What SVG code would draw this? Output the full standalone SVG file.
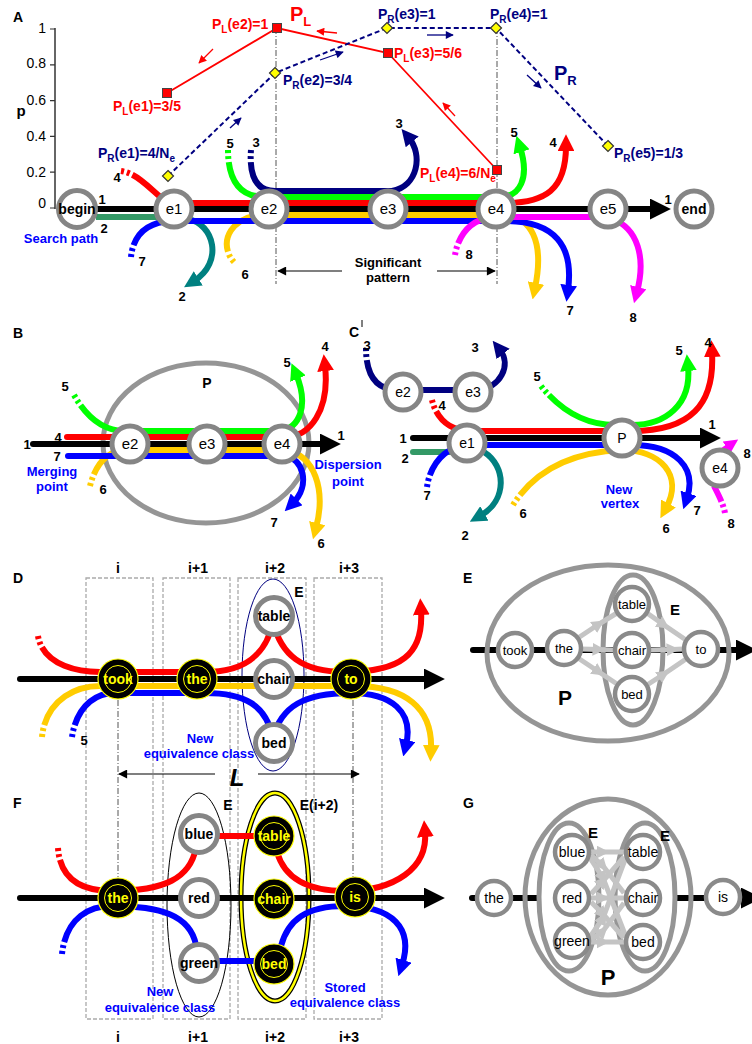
<svg xmlns="http://www.w3.org/2000/svg" width="752" height="1044" viewBox="0 0 752 1044">
<style>
text{font-family:"Liberation Sans",Arial,Helvetica,sans-serif;font-size:13px;font-weight:bold;fill:#000}
.n{font-weight:normal}
.m{text-anchor:middle}
.e{text-anchor:end}
.f14{font-size:14px}
.f15{font-size:15px}
.f20{font-size:20px}
.f22{font-size:22px}
.sub{font-size:10px}
.sub2{font-size:13px}
.blu{fill:#0000ff}
.nav{fill:#000080}
.red{fill:#ff0000}
.yel{fill:#ffff00}
.nd{fill:#fff;stroke:#858585;stroke-width:5}
.ndl{fill:#fff;stroke:#8a8a8a;stroke-width:4.5}
.bk{fill:#000;stroke:#ffff00;stroke-width:1.2}
.bki{fill:none;stroke:#ffff00;stroke-width:1}
.c{fill:none;stroke-width:6}
.d{stroke-dasharray:3 3 3 3 3000}
.rc{stroke-linecap:round}
.box{fill:none;stroke:#aaa;stroke-width:1.3;stroke-dasharray:4 2}
.dd{stroke:#555;stroke-width:1;stroke-dasharray:6 2 1 2;fill:none}
.gr{stroke:#c4c4c4;stroke-width:5;fill:none}
.ell{fill:none;stroke:#959595;stroke-width:5}
</style>
<defs>
<marker id="aK" viewBox="0 0 10 10" refX="1" refY="5" markerWidth="3.5" markerHeight="3.5" orient="auto"><path d="M0,0L10,5L0,10z" fill="#000"/></marker>
<marker id="aR" viewBox="0 0 10 10" refX="3" refY="5" markerWidth="2.8" markerHeight="2.8" orient="auto"><path d="M0,0L10,5L0,10z" fill="#ff0000"/></marker>
<marker id="aG" viewBox="0 0 10 10" refX="3" refY="5" markerWidth="2.8" markerHeight="2.8" orient="auto"><path d="M0,0L10,5L0,10z" fill="#00ff00"/></marker>
<marker id="aN" viewBox="0 0 10 10" refX="3" refY="5" markerWidth="2.8" markerHeight="2.8" orient="auto"><path d="M0,0L10,5L0,10z" fill="#000080"/></marker>
<marker id="aY" viewBox="0 0 10 10" refX="3" refY="5" markerWidth="2.8" markerHeight="2.8" orient="auto"><path d="M0,0L10,5L0,10z" fill="#ffcc00"/></marker>
<marker id="aB" viewBox="0 0 10 10" refX="3" refY="5" markerWidth="2.8" markerHeight="2.8" orient="auto"><path d="M0,0L10,5L0,10z" fill="#0000ff"/></marker>
<marker id="aT" viewBox="0 0 10 10" refX="3" refY="5" markerWidth="2.8" markerHeight="2.8" orient="auto"><path d="M0,0L10,5L0,10z" fill="#008080"/></marker>
<marker id="aM" viewBox="0 0 10 10" refX="3" refY="5" markerWidth="2.8" markerHeight="2.8" orient="auto"><path d="M0,0L10,5L0,10z" fill="#ff00ff"/></marker>
<marker id="aL" viewBox="0 0 10 10" refX="5" refY="5" markerWidth="2.6" markerHeight="2.6" orient="auto"><path d="M0,0L10,5L0,10z" fill="#c4c4c4"/></marker>
<marker id="sR" viewBox="0 0 10 10" refX="9" refY="5" markerUnits="userSpaceOnUse" markerWidth="9" markerHeight="8" orient="auto"><path d="M0,0L10,5L0,10z" fill="#ff0000"/></marker>
<marker id="sN" viewBox="0 0 10 10" refX="9" refY="5" markerUnits="userSpaceOnUse" markerWidth="9" markerHeight="8" orient="auto"><path d="M0,0L10,5L0,10z" fill="#000080"/></marker>
<marker id="sK" viewBox="0 0 10 10" refX="9" refY="5" markerUnits="userSpaceOnUse" markerWidth="13" markerHeight="9" orient="auto"><path d="M0,0L10,5L0,10z" fill="#000"/></marker>
</defs>
<rect width="752" height="1044" fill="#fff"/>

<!-- ================= PANEL A ================= -->
<g id="A-axis">
<text class="f14" x="13" y="22">A</text>
<line x1="55" y1="28" x2="55" y2="209" stroke="#333" stroke-width="1.5"/>
<path d="M50 29H55M50 64.8H55M50 100.6H55M50 136.4H55M50 172.2H55M50 208H55" stroke="#333" stroke-width="1.2"/>
<text class="n f14 e" x="46" y="33">1</text>
<text class="n f14 e" x="46" y="68">0.8</text>
<text class="n f14 e" x="46" y="105">0.6</text>
<text class="n f14 e" x="46" y="141">0.4</text>
<text class="n f14 e" x="46" y="177">0.2</text>
<text class="n f14 e" x="46" y="208">0</text>
<text class="f15 m" x="21" y="116">p</text>
<line class="dd" x1="276" y1="28" x2="276" y2="284"/>
<line class="dd" x1="497" y1="28" x2="497" y2="284"/>
</g>

<g id="A-curves">
<polyline points="167,93 277,28 388,53 497,170" fill="none" stroke="#ff0000" stroke-width="1.8"/>
<polyline points="168,176 275,73 387,28 496,28 608,146" fill="none" stroke="#000080" stroke-width="2" stroke-dasharray="5 3"/>
<line x1="213" y1="49" x2="199" y2="63" stroke="#ff0000" stroke-width="1.3" marker-end="url(#sR)"/>
<line x1="337" y1="33" x2="317" y2="31" stroke="#ff0000" stroke-width="1.3" marker-end="url(#sR)"/>
<line x1="455" y1="116" x2="443" y2="103" stroke="#ff0000" stroke-width="1.3" marker-end="url(#sR)"/>
<line x1="230" y1="128" x2="241" y2="118" stroke="#000080" stroke-width="1.3" marker-end="url(#sN)"/>
<line x1="320" y1="60" x2="343" y2="52" stroke="#000080" stroke-width="1.3" marker-end="url(#sN)"/>
<line x1="427" y1="35" x2="453" y2="35" stroke="#000080" stroke-width="1.3" marker-end="url(#sN)"/>
<line x1="527" y1="75" x2="541" y2="88" stroke="#000080" stroke-width="1.3" marker-end="url(#sN)"/>
<rect x="162.5" y="88.5" width="9" height="9" fill="#ff0000" stroke="#444"/>
<rect x="272.5" y="23.5" width="9" height="9" fill="#ff0000" stroke="#444"/>
<rect x="383.5" y="48.5" width="9" height="9" fill="#ff0000" stroke="#444"/>
<rect x="492.5" y="165.5" width="9" height="9" fill="#ff0000" stroke="#444"/>
<polygon points="168,170.5 173.5,176 168,181.5 162.5,176" fill="#ffff00" stroke="#333" stroke-width="1.2"/>
<polygon points="275,67.5 280.5,73 275,78.5 269.5,73" fill="#ffff00" stroke="#333" stroke-width="1.2"/>
<polygon points="387,22.5 392.5,28 387,33.5 381.5,28" fill="#ffff00" stroke="#333" stroke-width="1.2"/>
<polygon points="496,22.5 501.5,28 496,33.5 490.5,28" fill="#ffff00" stroke="#333" stroke-width="1.2"/>
<polygon points="608,140.5 613.5,146 608,151.5 602.5,146" fill="#ffff00" stroke="#333" stroke-width="1.2"/>
<text class="f14 red" x="113" y="111">P<tspan class="sub" dy="4">L</tspan><tspan dy="-4">(e1)=3/5</tspan></text>
<text class="f14 red" x="212" y="29">P<tspan class="sub" dy="4">L</tspan><tspan dy="-4">(e2)=1</tspan></text>
<text class="f20 red" x="290" y="21">P<tspan class="sub2" dy="5">L</tspan></text>
<text class="f14 red" x="394" y="58">P<tspan class="sub" dy="4">L</tspan><tspan dy="-4">(e3)=5/6</tspan></text>
<text class="f14 red" x="420" y="178">P<tspan class="sub" dy="4">L</tspan><tspan dy="-4">(e4)=6/N</tspan><tspan class="sub" dy="4">e</tspan></text>
<text class="f14 nav" x="98" y="158">P<tspan class="sub" dy="4">R</tspan><tspan dy="-4">(e1)=4/N</tspan><tspan class="sub" dy="4">e</tspan></text>
<text class="f14 nav" x="283" y="85">P<tspan class="sub" dy="4">R</tspan><tspan dy="-4">(e2)=3/4</tspan></text>
<text class="f14 nav" x="378" y="19">P<tspan class="sub" dy="4">R</tspan><tspan dy="-4">(e3)=1</tspan></text>
<text class="f14 nav" x="490" y="19">P<tspan class="sub" dy="4">R</tspan><tspan dy="-4">(e4)=1</tspan></text>
<text class="f20 nav" x="554" y="80">P<tspan class="sub2" dy="5">R</tspan></text>
<text class="f14 nav" x="614" y="158">P<tspan class="sub" dy="4">R</tspan><tspan dy="-4">(e5)=1/3</tspan></text>
</g>

<g id="A-connectors">
<path class="c" stroke="#339966" d="M96 217H168"/>
<path class="c" stroke="#008080" marker-end="url(#aT)" d="M188 219C214 224 224 262 194 281"/>
<path class="c d" stroke="#ff0000" marker-end="url(#aR)" d="M121 171C140 174 152 192 168 203H505C545 203 566 190 566 146"/>
<path class="c d" stroke="#00ff00" marker-end="url(#aG)" d="M228 150C228 180 240 197 265 197H500C520 197 530 178 520 147"/>
<path class="c d" stroke="#000080" marker-end="url(#aN)" d="M251 150C249 175 256 191 275 191H392C418 186 423 155 409 138"/>
<path class="c d" stroke="#ffcc00" marker-end="url(#aY)" d="M234 262C222 250 222 222 258 215H505C530 217 545 240 535 288"/>
<path class="c d" stroke="#0000ff" marker-end="url(#aB)" d="M131 257C133 236 146 222 172 221H505C555 221 574 246 568 290"/>
<path class="c d" stroke="#ff00ff" d="M455 255C458 236 470 220 492 217H605"/>
<path class="c" stroke="#ff00ff" marker-end="url(#aM)" d="M612 219C638 228 646 258 637 292"/>
<path class="c" stroke="#000" marker-end="url(#aK)" d="M96 209H652"/>
<line x1="342" y1="271" x2="278" y2="271" stroke="#000" stroke-width="1.2" marker-end="url(#sK)"/>
<line x1="437" y1="271" x2="495" y2="271" stroke="#000" stroke-width="1.2" marker-end="url(#sK)"/>
</g>

<g id="A-labels">
<text class="m" x="102" y="204">1</text>
<text class="m" x="104" y="233">2</text>
<text class="m" x="117" y="182">4</text>
<text class="m" x="142" y="266">7</text>
<text class="m" x="182" y="301">2</text>
<text class="m" x="245" y="279">6</text>
<text class="m" x="230" y="148">5</text>
<text class="m" x="256" y="147">3</text>
<text class="m" x="399" y="128">3</text>
<text class="m" x="514" y="137">5</text>
<text class="m" x="553" y="147">4</text>
<text class="m" x="469" y="259">8</text>
<text class="m" x="570" y="315">7</text>
<text class="m" x="633" y="322">8</text>
<text class="m" x="668" y="204">1</text>
<text class="m blu" x="61" y="243">Search path</text>
<text class="m" x="388" y="267">Significant</text>
<text class="m" x="388" y="282">pattern</text>
</g>

<g id="A-begin"><circle cx="77" cy="209" r="18.5" class="nd"/><text class="m f14" x="77" y="214">begin</text></g>
<g id="A-e1"><circle cx="174" cy="209" r="18" class="nd"/><text class="m n f15" x="174" y="214">e1</text></g>
<g id="A-e2"><circle cx="269" cy="209" r="18" class="nd"/><text class="m n f15" x="269" y="214">e2</text></g>
<g id="A-e3"><circle cx="388" cy="209" r="18" class="nd"/><text class="m n f15" x="388" y="214">e3</text></g>
<g id="A-e4"><circle cx="496" cy="209" r="18" class="nd"/><text class="m n f15" x="496" y="214">e4</text></g>
<g id="A-e5"><circle cx="608" cy="209" r="18" class="nd"/><text class="m n f15" x="608" y="214">e5</text></g>
<g id="A-end"><circle cx="694" cy="209" r="18" class="nd"/><text class="m f14" x="694" y="214">end</text></g>

<!-- ================= PANEL B ================= -->
<g id="B-P"><ellipse cx="206" cy="443" rx="103" ry="80" class="ell"/><text class="m f14" x="207" y="388">P</text><text class="f14" x="13" y="338">B</text></g>
<g id="B-connectors">
<path class="c rc" stroke="#000" marker-end="url(#aK)" d="M33 444H322"/>
<path class="c rc" stroke="#ff0000" marker-end="url(#aR)" d="M67 437H285C310 437 330 410 325 366"/>
<path class="c d" stroke="#00ff00" marker-end="url(#aG)" d="M74 395C86 416 102 431 125 431H280C300 428 309 405 296 374"/>
<path class="c d" stroke="#ffcc00" marker-end="url(#aY)" d="M90 486C95 466 106 451 125 450H285C315 455 326 490 316 528"/>
<path class="c rc" stroke="#0000ff" marker-end="url(#aB)" d="M68 456H285C303 458 311 485 293 503"/>
</g>
<g id="B-labels">
<text class="m" x="27" y="449">1</text>
<text class="m" x="58" y="442">4</text>
<text class="m" x="57" y="461">7</text>
<text class="m" x="65" y="391">5</text>
<text class="m" x="103" y="494">6</text>
<text class="m" x="287" y="367">5</text>
<text class="m" x="325" y="351">4</text>
<text class="m" x="274" y="527">7</text>
<text class="m" x="321" y="548">6</text>
<text class="m" x="341" y="440">1</text>
<text class="m blu" x="52" y="476">Merging</text>
<text class="m blu" x="52" y="491">point</text>
<text class="m blu" x="348" y="469">Dispersion</text>
<text class="m blu" x="348" y="486">point</text>
</g>
<g id="B-e2"><circle cx="130" cy="444" r="18" class="nd"/><text class="m n f15" x="130" y="449">e2</text></g>
<g id="B-e3"><circle cx="207" cy="444" r="18" class="nd"/><text class="m n f15" x="207" y="449">e3</text></g>
<g id="B-e4"><circle cx="282" cy="444" r="18" class="nd"/><text class="m n f15" x="282" y="449">e4</text></g>

<!-- ================= PANEL C ================= -->
<g id="C-connectors">
<path class="c rc" stroke="#000" marker-end="url(#aK)" d="M413 438H702"/>
<path class="c rc" stroke="#339966" d="M413 452H462"/>
<path class="c" stroke="#008080" marker-end="url(#aT)" d="M484 452C506 466 508 500 480 516"/>
<path class="c d" stroke="#ff0000" marker-end="url(#aR)" d="M432 400C436 418 450 431 470 431H632C690 431 715 405 712 352"/>
<path class="c d" stroke="#000080" marker-end="url(#aN)" d="M366 348C366 375 376 390 398 390H478C500 388 512 365 500 350"/>
<path class="c d" stroke="#00ff00" marker-end="url(#aG)" d="M541 386C560 410 586 425 615 425H632C665 425 692 405 688 366"/>
<path class="c d" stroke="#0000ff" marker-end="url(#aB)" d="M427 487C430 465 445 445 470 445H632C676 445 697 468 687 498"/>
<path class="c d" stroke="#ffcc00" marker-end="url(#aY)" d="M513 505C535 470 572 452 622 450C660 450 684 475 666 508"/>
<path class="c d" stroke="#ff00ff" d="M725 513C723 503 718 494 714 486"/>
<path fill="none" stroke="#ff00ff" stroke-width="5" marker-end="url(#aM)" d="M720 452C724 449 727 447 730 445"/>
</g>
<g id="C-labels">
<text class="f14" x="349" y="337">C</text>
<line x1="362" y1="320" x2="362" y2="327" stroke="#000" stroke-width="1"/>
<text class="m" x="367" y="350">3</text>
<text class="m" x="475" y="352">3</text>
<text class="m" x="442" y="410">4</text>
<text class="m" x="403" y="443">1</text>
<text class="m" x="405" y="463">2</text>
<text class="m" x="427" y="500">7</text>
<text class="m" x="465" y="540">2</text>
<text class="m" x="537" y="381">5</text>
<text class="m" x="523" y="518">6</text>
<text class="m" x="679" y="355">5</text>
<text class="m" x="708" y="347">4</text>
<text class="m" x="712" y="429">1</text>
<text class="m" x="747" y="458">8</text>
<text class="m" x="731" y="528">8</text>
<text class="m" x="697" y="515">7</text>
<text class="m" x="666" y="533">6</text>
<text class="m blu" x="619" y="494">New</text>
<text class="m blu" x="620" y="508">vertex</text>
</g>
<g id="C-e2"><circle cx="403" cy="392" r="18" class="nd"/><text class="m n f14" x="403" y="397">e2</text></g>
<g id="C-e3"><circle cx="473" cy="392" r="18" class="nd"/><text class="m n f14" x="473" y="397">e3</text></g>
<g id="C-e1"><circle cx="467" cy="443" r="18" class="nd"/><text class="m n f14" x="467" y="448">e1</text></g>
<g id="C-P"><circle cx="622" cy="438" r="18" class="nd"/><text class="m n f14" x="622" y="443">P</text></g>
<g id="C-e4"><circle cx="720" cy="468" r="18" class="nd"/><text class="m n f14" x="720" y="473">e4</text></g>

<!-- ================= PANELS D / F columns ================= -->
<g id="DF-columns">
<rect class="box" x="86" y="578" width="67" height="441"/>
<rect class="box" x="163" y="578" width="67" height="441"/>
<rect class="box" x="238" y="578" width="68" height="441"/>
<rect class="box" x="314" y="578" width="68" height="441"/>
<text class="f14 m" x="118" y="573">i</text>
<text class="f14 m" x="198" y="573">i+1</text>
<text class="f14 m" x="275" y="573">i+2</text>
<text class="f14 m" x="349" y="573">i+3</text>
<text class="f14 m" x="118" y="1042">i</text>
<text class="f14 m" x="198" y="1042">i+1</text>
<text class="f14 m" x="275" y="1042">i+2</text>
<text class="f14 m" x="349" y="1042">i+3</text>
<line class="dd" x1="118" y1="700" x2="118" y2="877"/>
<line class="dd" x1="353" y1="700" x2="353" y2="877"/>
</g>

<!-- ================= PANEL D ================= -->
<g id="D-connectors">
<ellipse cx="273" cy="675" rx="31" ry="96" fill="none" stroke="#000080" stroke-width="1"/>
<path class="c rc" stroke="#000" stroke-width="7" marker-end="url(#aK)" d="M20 679H426"/>
<path class="c d" stroke="#ff0000" marker-end="url(#aR)" d="M38 636C42 660 68 672 100 672H205C245 672 266 655 273 622C281 655 302 672 345 672C400 672 424 655 421 610"/>
<path class="c d" stroke="#ffcc00" marker-end="url(#aY)" d="M42 737C45 705 70 686 100 686H355C405 686 433 708 431 750"/>
<path class="c d" stroke="#0000ff" marker-end="url(#aB)" d="M72 737C76 710 92 693 115 693H205C245 693 266 705 273 738C281 706 305 693 350 693C392 693 414 712 406 745"/>
<line x1="215" y1="774" x2="119" y2="774" stroke="#000" stroke-width="1.2" marker-end="url(#sK)"/>
<line x1="258" y1="774" x2="359" y2="774" stroke="#000" stroke-width="1.2" marker-end="url(#sK)"/>
</g>
<g id="D-labels">
<text class="f14" x="13" y="583">D</text>
<text class="f14 m" x="299" y="597">E</text>
<text class="m" x="84" y="745">5</text>
<text class="m blu" x="200" y="743">New</text>
<text class="m blu" x="199" y="758">equivalence class</text>
<text class="m" x="237" y="786" style="font-size:24px;font-style:italic">L</text>
</g>
<g id="D-took"><circle cx="118" cy="679" r="20" class="bk"/><circle cx="118" cy="679" r="13.5" class="bki"/><text class="m f14 yel" x="118" y="684">took</text></g>
<g id="D-the"><circle cx="197" cy="679" r="20" class="bk"/><circle cx="197" cy="679" r="13.5" class="bki"/><text class="m f14 yel" x="197" y="684">the</text></g>
<g id="D-to"><circle cx="351" cy="679" r="20" class="bk"/><circle cx="351" cy="679" r="13.5" class="bki"/><text class="m f14 yel" x="351" y="684">to</text></g>
<g id="D-table"><circle cx="274" cy="616" r="18.5" class="nd"/><text class="m f14" x="274" y="621">table</text></g>
<g id="D-chair"><circle cx="274" cy="679" r="18.5" class="nd"/><text class="m f14" x="274" y="684">chair</text></g>
<g id="D-bed"><circle cx="274" cy="743" r="18.5" class="nd"/><text class="m f14" x="274" y="748">bed</text></g>

<!-- ================= PANEL E ================= -->
<g id="E-connectors">
<path class="c rc" stroke="#000" marker-end="url(#aK)" d="M473 650H738"/>
<ellipse cx="608" cy="653" rx="121" ry="88" class="ell"/>
<ellipse cx="633" cy="650" rx="30" ry="75" class="ell"/>
<path class="gr" marker-mid="url(#aL)" d="M578 638L599 624L617 613"/>
<path class="gr" marker-mid="url(#aL)" d="M581 649L599 649.5L614 650"/>
<path class="gr" marker-mid="url(#aL)" d="M578 658L599 672L617 684"/>
<path class="gr" marker-mid="url(#aL)" d="M647 613L664 625L686 640"/>
<path class="gr" marker-mid="url(#aL)" d="M650 650L673 649.5L683 649"/>
<path class="gr" marker-mid="url(#aL)" d="M647 685L664 674L686 659"/>
</g>
<g id="E-labels">
<text class="f14" x="463" y="583">E</text>
<text class="f15 m" x="675" y="615">E</text>
<text class="m" x="565" y="705" style="font-size:21px">P</text>
</g>
<g id="E-took"><circle cx="515" cy="650" r="17" class="ndl"/><text class="m n" x="515" y="655">took</text></g>
<g id="E-the"><circle cx="564" cy="648" r="17" class="ndl"/><text class="m n" x="564" y="653">the</text></g>
<g id="E-table"><circle cx="632" cy="604" r="17" class="ndl"/><text class="m n" x="632" y="609">table</text></g>
<g id="E-chair"><circle cx="632" cy="650" r="17" class="ndl"/><text class="m n" x="632" y="655">chair</text></g>
<g id="E-bed"><circle cx="632" cy="694" r="17" class="ndl"/><text class="m n" x="632" y="699">bed</text></g>
<g id="E-to"><circle cx="701" cy="649" r="17" class="ndl"/><text class="m n" x="701" y="654">to</text></g>

<!-- ================= PANEL F ================= -->
<g id="F-connectors">
<ellipse cx="199" cy="905" rx="32" ry="112" fill="none" stroke="#000" stroke-width="1"/>
<ellipse cx="275" cy="897" rx="34" ry="104" fill="none" stroke="#000" stroke-width="5"/>
<ellipse cx="275" cy="897" rx="34" ry="104" fill="none" stroke="#ffff00" stroke-width="2.5"/>
<path class="c rc" stroke="#000" stroke-width="7" marker-end="url(#aK)" d="M20 898H426"/>
<path class="c d" stroke="#ff0000" d="M58 848C60 878 80 891 112 891C165 891 190 878 196 848"/>
<path class="c" stroke="#ff0000" d="M215 836H258"/>
<path class="c" stroke="#ff0000" marker-end="url(#aR)" d="M277 852C285 880 310 891 345 891C395 891 428 868 425 832"/>
<path class="c d" stroke="#0000ff" d="M62 954C65 925 82 906 112 906C160 906 190 915 196 945"/>
<path class="c" stroke="#0000ff" d="M215 961H258"/>
<path class="c" stroke="#0000ff" marker-end="url(#aB)" d="M281 946C288 920 306 906 345 906C392 906 414 928 402 965"/>
</g>
<g id="F-labels">
<text class="f14" x="13" y="808">F</text>
<text class="f14 m" x="228" y="810">E</text>
<text class="f14 m" x="319" y="810">E(i+2)</text>
<text class="m blu" x="160" y="996">New</text>
<text class="m blu" x="160" y="1012">equivalence class</text>
<text class="m blu" x="345" y="992">Stored</text>
<text class="m blu" x="345" y="1007">equivalence class</text>
</g>
<g id="F-the"><circle cx="118" cy="898" r="20" class="bk"/><circle cx="118" cy="898" r="13.5" class="bki"/><text class="m f14 yel" x="118" y="903">the</text></g>
<g id="F-blue"><circle cx="199" cy="834" r="18.5" class="nd"/><text class="m f14" x="199" y="839">blue</text></g>
<g id="F-red"><circle cx="199" cy="898" r="18.5" class="nd"/><text class="m f14" x="199" y="903">red</text></g>
<g id="F-green"><circle cx="199" cy="963" r="18.5" class="nd"/><text class="m f14" x="199" y="968">green</text></g>
<g id="F-table"><circle cx="274" cy="836" r="20" class="bk"/><circle cx="274" cy="836" r="13.5" class="bki"/><text class="m f14 yel" x="274" y="841">table</text></g>
<g id="F-chair"><circle cx="274" cy="899" r="20" class="bk"/><circle cx="274" cy="899" r="13.5" class="bki"/><text class="m f14 yel" x="274" y="904">chair</text></g>
<g id="F-bed"><circle cx="274" cy="964" r="20" class="bk"/><circle cx="274" cy="964" r="13.5" class="bki"/><text class="m f14 yel" x="274" y="969">bed</text></g>
<g id="F-is"><circle cx="355" cy="897" r="20" class="bk"/><circle cx="355" cy="897" r="13.5" class="bki"/><text class="m f14 yel" x="355" y="902">is</text></g>

<!-- ================= PANEL G ================= -->
<g id="G-connectors">
<path class="c rc" stroke="#000" d="M472 898H480"/>
<path class="c" stroke="#000" d="M512 898H541"/>
<path class="c" stroke="#000" d="M673 898H705"/>
<path class="c" stroke="#000" marker-end="url(#aK)" d="M735 898H743"/>
<ellipse cx="608" cy="897" rx="83" ry="98" class="ell"/>
<ellipse cx="569" cy="897" rx="30" ry="74" class="ell" fill="#fff"/>
<ellipse cx="645" cy="897" rx="30" ry="74" class="ell"/>
<path class="gr" marker-mid="url(#aL)" d="M591 852L603 852L624 852"/>
<path class="gr" marker-mid="url(#aL)" d="M591 855L603 866L624 893"/>
<path class="gr" marker-mid="url(#aL)" d="M590 858L603 878L626 937"/>
<path class="gr" marker-mid="url(#aL)" d="M591 894L603 881L624 857"/>
<path class="gr" marker-mid="url(#aL)" d="M591 898L603 898L624 898"/>
<path class="gr" marker-mid="url(#aL)" d="M591 902L603 914L624 938"/>
<path class="gr" marker-mid="url(#aL)" d="M590 937L603 918L626 857"/>
<path class="gr" marker-mid="url(#aL)" d="M591 940L603 931L624 903"/>
<path class="gr" marker-mid="url(#aL)" d="M591 942L603 942L624 942"/>
</g>
<g id="G-labels">
<text class="f14" x="463" y="808">G</text>
<text class="f15 m" x="593" y="838">E</text>
<text class="f15 m" x="665" y="841">E</text>
<text class="m f22" x="608" y="985">P</text>
</g>
<g id="G-the"><circle cx="494" cy="898" r="17" class="ndl"/><text class="m n f14" x="494" y="903">the</text></g>
<g id="G-blue"><circle cx="572" cy="852" r="17" class="ndl"/><text class="m n f14" x="572" y="857">blue</text></g>
<g id="G-red"><circle cx="572" cy="898" r="17" class="ndl"/><text class="m n f14" x="572" y="903">red</text></g>
<g id="G-green"><circle cx="572" cy="941" r="17" class="ndl"/><text class="m n f14" x="572" y="946">green</text></g>
<g id="G-table"><circle cx="643" cy="852" r="17" class="ndl"/><text class="m n f14" x="643" y="857">table</text></g>
<g id="G-chair"><circle cx="643" cy="898" r="17" class="ndl"/><text class="m n f14" x="643" y="903">chair</text></g>
<g id="G-bed"><circle cx="643" cy="942" r="17" class="ndl"/><text class="m n f14" x="643" y="947">bed</text></g>
<g id="G-is"><circle cx="723" cy="897" r="17" class="ndl"/><text class="m n f14" x="723" y="902">is</text></g>
</svg>
